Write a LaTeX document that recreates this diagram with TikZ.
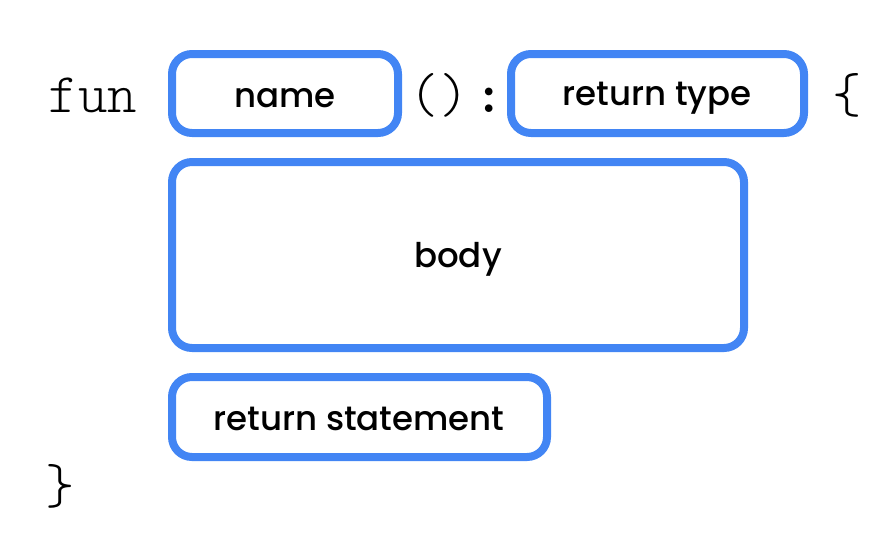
\documentclass[tikz,border=0pt]{standalone}
\usepackage{fontspec}
\setmainfont{Poppins}[UprightFont=*-Medium]
\newfontfamily\codefont{Latin Modern Mono Light}
\definecolor{gblue}{HTML}{4285F4}
\begin{document}
\begin{tikzpicture}[x=1pt,y=-1pt,
  slot/.style={draw=gblue,line width=8pt,rounded corners=20pt,inner sep=0pt},
  lbl/.style={font=\fontsize{34}{39}\selectfont,text=black},
  code/.style={font=\codefont\fontsize{56}{64}\selectfont,text=black,inner sep=0pt,anchor=base}]
\useasboundingbox (0,0) rectangle (881,533);
% boxes
\draw[slot] (172,54) rectangle (398,133);
\draw[slot] (511,54) rectangle (804,133);
\draw[slot] (172,162) rectangle (744,348);
\draw[slot] (172,377) rectangle (547,457);
% labels
\node[lbl] (name) at (285,98) {name};
\node[lbl] (rtype) at (657,98) {return type};
\node[lbl] (body) at (458,259) {body};
\node[lbl] (rstmt) at (359,419) {return statement};
% code text
\node[code] (fun) at (93,112) {fun};
\node[code] (parens) at (439,112) {()};
\node[code,font=\ttfamily\bfseries\fontsize{56}{64}\selectfont] (colon) at (489,112) {:};
\node[code] (lbrace) at (847,112) {\{};
\node[code] (rbrace) at (60,503) {\}};
\end{tikzpicture}
\end{document}
